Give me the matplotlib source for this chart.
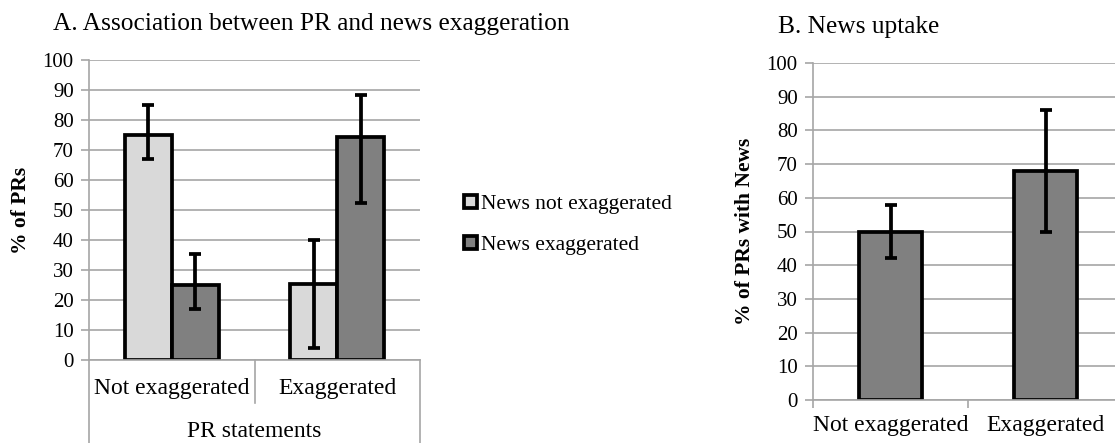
import matplotlib
matplotlib.use("Agg")
import matplotlib.pyplot as plt
from matplotlib.patches import Patch
import numpy as np

plt.rcParams['font.family'] = ['Liberation Serif', 'DejaVu Serif']

# ---- data ----
a_categories = ["Not exaggerated", "Exaggerated"]
a_series_names = ["News not exaggerated", "News exaggerated"]
a_not_exag = [75, 25.5]
a_not_exag_lo = [67, 4]
a_not_exag_hi = [85, 40]
a_exag = [25, 74.5]
a_exag_lo = [17, 52.5]
a_exag_hi = [35.5, 88.5]

b_categories = ["Not exaggerated", "Exaggerated"]
b_values = [50, 68]
b_lo = [42, 50]
b_hi = [58, 86]

yticks = list(range(0, 101, 10))

LIGHT = "#d9d9d9"
DARK = "#808080"
GRID = "#a6a6a6"
FS_TICK = 15
FS_CAT = 17
FS_LAB = 15.5
FS_LEG = 15.5
FS_TITLE = 18.3
LW = 2.7

W, H = 1115, 443
fig = plt.figure(figsize=(W / 100, H / 100), dpi=100)

def ax_rect(l, t, r, b):
    return [l / W, 1 - b / H, (r - l) / W, (b - t) / H]

def style_axis(ax):
    ax.set_ylim(0, 100)
    ax.set_yticks(yticks)
    ax.set_xlim(-0.5, 1.5)
    ax.grid(axis='y', color=GRID, linewidth=1.2)
    ax.set_axisbelow(True)
    for s in ['top', 'right']:
        ax.spines[s].set_visible(False)
    for s in ['left', 'bottom']:
        ax.spines[s].set_color(GRID)
        ax.spines[s].set_linewidth(1.2)
    ax.tick_params(axis='y', length=6, color=GRID, width=1.2, labelsize=FS_TICK, pad=5)
    ax.tick_params(axis='x', which='major', length=0, labelsize=FS_CAT)

ekw = dict(ecolor='black', elinewidth=LW, capsize=4, capthick=LW)

# ---- Panel A ----
axA = fig.add_axes(ax_rect(89, 60, 420, 360))
style_axis(axA)
x = np.arange(len(a_categories))
bw = 0.285
errA1 = [np.array(a_not_exag) - np.array(a_not_exag_lo), np.array(a_not_exag_hi) - np.array(a_not_exag)]
errA2 = [np.array(a_exag) - np.array(a_exag_lo), np.array(a_exag_hi) - np.array(a_exag)]
axA.bar(x - bw / 2, a_not_exag, bw, color=LIGHT, edgecolor='black', linewidth=LW,
        yerr=errA1, error_kw=ekw, label=a_series_names[0])
axA.bar(x + bw / 2, a_exag, bw, color=DARK, edgecolor='black', linewidth=LW,
        yerr=errA2, error_kw=ekw, label=a_series_names[1])
axA.set_xticks(x)
axA.set_xticklabels(a_categories)
axA.tick_params(axis='x', pad=13)
axA.set_ylabel("% of PRs", fontsize=FS_LAB, fontweight='bold', labelpad=8)
tr = axA.get_xaxis_transform()
axA.plot([0.5, 0.5], [0, -0.143], transform=tr, color=GRID, lw=1.2, clip_on=False)
axA.plot([-0.5, -0.5], [0, -0.3], transform=tr, color=GRID, lw=1.2, clip_on=False)
axA.plot([1.5, 1.5], [0, -0.3], transform=tr, color=GRID, lw=1.2, clip_on=False)
axA.text(0.5, -0.238, "PR statements", transform=tr, ha='center', va='center', fontsize=FS_CAT)

fig.text(53 / W, 1 - 24 / H, "A. Association between PR and news exaggeration",
         fontsize=FS_TITLE, ha='left', va='center')

handles = [Patch(facecolor=LIGHT, edgecolor='black', linewidth=LW),
           Patch(facecolor=DARK, edgecolor='black', linewidth=LW)]
fig.legend(handles, a_series_names, loc='center left',
           bbox_to_anchor=(445 / W, 1 - 225 / H), frameon=False, fontsize=FS_LEG,
           handlelength=0.6, handleheight=0.6, handletextpad=0.15, labelspacing=1.0)

# ---- Panel B ----
axB = fig.add_axes(ax_rect(813, 63, 1123, 400))
style_axis(axB)
xb = np.arange(len(b_categories))
errB = [np.array(b_values) - np.array(b_lo), np.array(b_hi) - np.array(b_values)]
axB.bar(xb, b_values, 0.406, color=DARK, edgecolor='black', linewidth=LW,
        yerr=errB, error_kw=ekw)
axB.set_xticks(xb)
axB.set_xticklabels(b_categories)
axB.tick_params(axis='x', pad=11)
axB.set_xticks([-0.5, 0.5, 1.5], minor=True)
axB.tick_params(axis='x', which='minor', length=6, color=GRID, width=1.2)
axB.set_ylabel("% of PRs with News", fontsize=FS_LAB, fontweight='bold', labelpad=8)
fig.text(778 / W, 1 - 27 / H, "B. News uptake", fontsize=FS_TITLE, ha='left', va='center')

fig.savefig("out.png", dpi=100)
